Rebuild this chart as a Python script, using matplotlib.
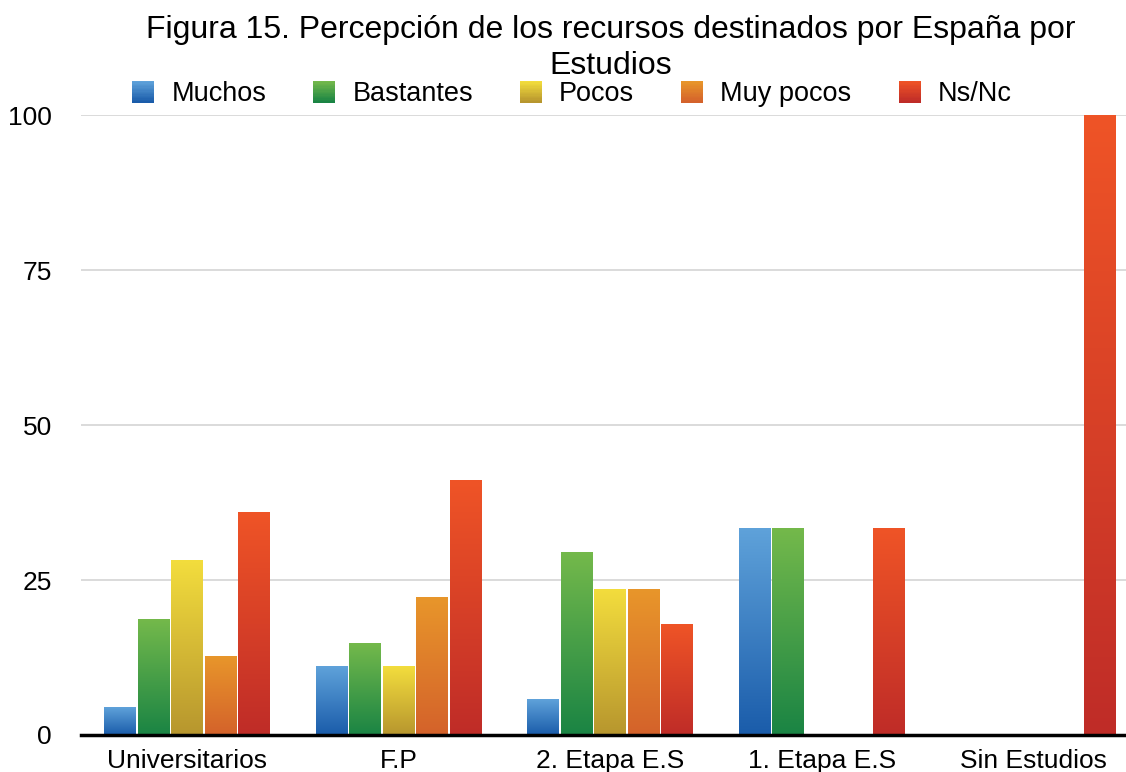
import numpy as np
import matplotlib
matplotlib.use('Agg')
import matplotlib.pyplot as plt
from matplotlib.colors import LinearSegmentedColormap
from matplotlib.patches import Patch, Rectangle
from matplotlib.legend_handler import HandlerBase

plt.rcParams['font.family'] = ['Liberation Sans', 'DejaVu Sans']

# datos (%)
categorias = ['Universitarios', 'F.P', '2. Etapa E.S', '1. Etapa E.S', 'Sin Estudios']
series = ['Muchos', 'Bastantes', 'Pocos', 'Muy pocos', 'Ns/Nc']
muchos = [4.5, 11.0, 5.8, 33.3, 0]
bastantes = [18.7, 14.8, 29.5, 33.3, 0]
pocos = [28.2, 11.0, 23.4, 0, 0]
muy_pocos = [12.7, 22.1, 23.4, 0, 0]
ns_nc = [35.9, 41.1, 17.9, 33.3, 100]
yticks = [0, 25, 50, 75, 100]

valores = [muchos, bastantes, pocos, muy_pocos, ns_nc]
# (arriba, abajo) de cada degradado
colores = [('#5fa2da', '#1a5caa'),
           ('#74b94b', '#1a8444'),
           ('#f3dd3d', '#b7962e'),
           ('#e8962a', '#d4622b'),
           ('#ef5426', '#bf2c28')]


def cmap_de(top, bottom):
    return LinearSegmentedColormap.from_list('g', [bottom, top])


class HandlerGradiente(HandlerBase):
    def __init__(self, top, bottom, n=16):
        super().__init__()
        self.cmap = cmap_de(top, bottom)
        self.n = n

    def create_artists(self, legend, orig_handle, xdescent, ydescent,
                       width, height, fontsize, trans):
        arts = []
        h = height / self.n
        for k in range(self.n):
            r = Rectangle((-xdescent, -ydescent + k * h), width, h * 1.1,
                          facecolor=self.cmap(k / (self.n - 1)),
                          edgecolor='none', transform=trans)
            arts.append(r)
        return arts


W, H = 1126, 772
fig = plt.figure(figsize=(W / 100, H / 100), dpi=100)
ax = fig.add_axes([81 / W, (H - 735) / H, (1139 - 81) / W, (735 - 115) / H])

x = np.arange(len(categorias))
paso = 0.158
ancho = paso * 0.94
grad = np.linspace(0, 1, 256).reshape(-1, 1)

for i, (vals, (top, bottom)) in enumerate(zip(valores, colores)):
    cm = cmap_de(top, bottom)
    pos = x + (i - 2) * paso
    barras = ax.bar(pos, vals, ancho, color='none', edgecolor='none')
    for b, v in zip(barras, vals):
        if v <= 0:
            continue
        x0 = b.get_x()
        ax.imshow(grad, extent=[x0, x0 + ancho, 0, v], origin='lower',
                  cmap=cm, aspect='auto', interpolation='bilinear', zorder=3)

ax.set_xlim(-0.5, len(categorias) - 0.5)
ax.set_ylim(0, 100)
ax.set_yticks(yticks)
ax.set_xticks(x)
ax.set_xticklabels(categorias)
ax.tick_params(axis='both', length=0, labelsize=19)
ax.tick_params(axis='y', pad=21)
ax.tick_params(axis='x', pad=10)
for s in ax.spines.values():
    s.set_visible(False)
ax.grid(axis='y', color='#d4d4d4', linewidth=1.2)
ax.set_axisbelow(True)
ax.axhline(0, color='black', linewidth=2.5, zorder=5, clip_on=False)

fig.text(611 / W, 1 - 15 / H,
         'Figura 15. Percepción de los recursos destinados por España por\nEstudios',
         ha='center', va='top', fontsize=23, linespacing=1.28)

handles = [Patch(label=s) for s in series]
hmap = {h: HandlerGradiente(t, b) for h, (t, b) in zip(handles, colores)}
fig.legend(handles=handles, loc='center', ncol=5, frameon=False,
           bbox_to_anchor=(572 / W, 1 - 94 / H), fontsize=19.5,
           handlelength=0.81, handleheight=0.85, handletextpad=0.63,
           columnspacing=1.74, borderpad=0, handler_map=hmap)

fig.savefig('out.png', dpi=100)
